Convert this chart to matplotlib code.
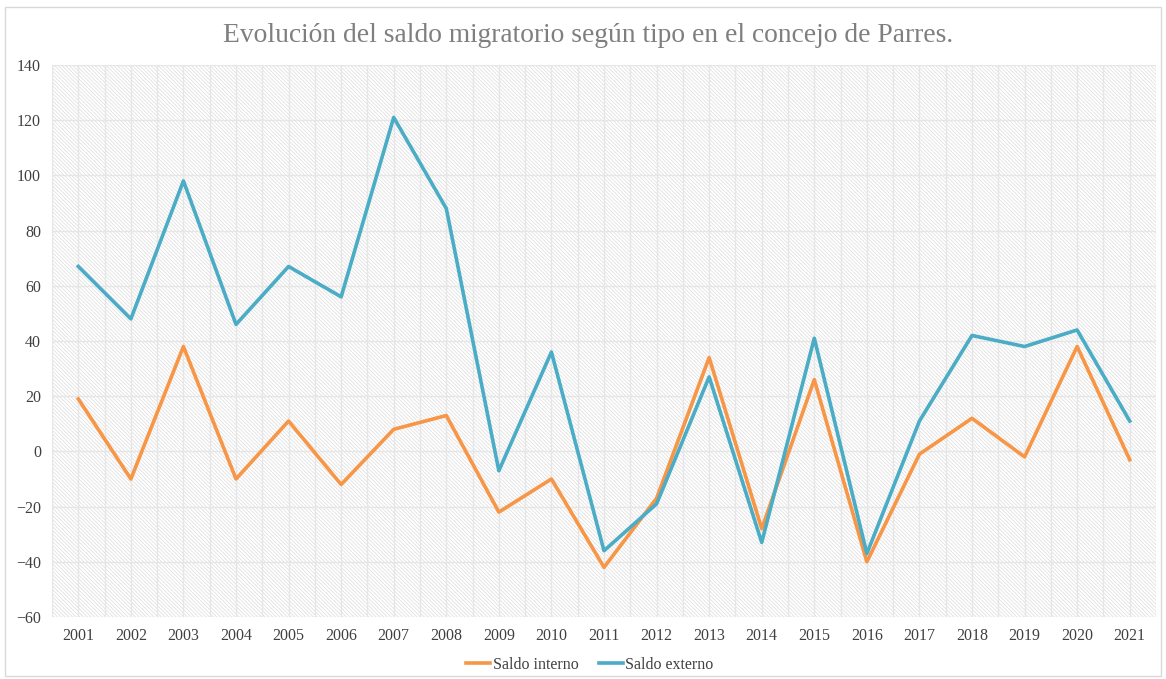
import matplotlib.pyplot as plt
from matplotlib.patches import Rectangle
import numpy as np

years = [str(y) for y in range(2001, 2022)]
saldo_interno = [19, -10, 38, -10, 11, -12, 8, 13, -22, -10, -42, -17, 34, -28, 26, -40, -1, 12, -2, 38, -3]
saldo_externo = [67, 48, 98, 46, 67, 56, 121, 88, -7, 36, -36, -19, 27, -33, 41, -37, 11, 42, 38, 44, 11]

plt.rcParams['font.family'] = ['Liberation Serif', 'DejaVu Serif']
plt.rcParams['hatch.linewidth'] = 0.5

fig = plt.figure(figsize=(11.66, 6.79), dpi=100)
ax = fig.add_axes([52 / 1166, 1 - 617 / 679, (1156 - 52) / 1166, (617 - 65) / 679])

# hatched background of plot area
bg = Rectangle((0, 0), 1, 1, transform=ax.transAxes, facecolor='white',
               edgecolor='#dcdcdc', linewidth=0, hatch='\\' * 9, zorder=0)
ax.add_patch(bg)

x = np.arange(len(years))
ax.plot(x, saldo_interno, color='#F79646', lw=2.6, label='Saldo interno', zorder=3)
ax.plot(x, saldo_externo, color='#4BACC6', lw=2.6, label='Saldo externo', zorder=3)

ax.set_xlim(-0.5, len(years) - 0.5)
ax.set_ylim(-60, 140)
ax.set_yticks(range(-60, 141, 20))
ax.set_xticks(x)
ax.set_xticklabels(years)
ax.set_xticks(np.arange(-0.5, len(years), 1), minor=True)
ax.grid(True, which='both', color='#e6e6e6', lw=1, zorder=1)
ax.set_axisbelow(True)
ax.tick_params(which='both', length=0)
ax.tick_params(axis='both', labelsize=11.5, labelcolor='#404040', pad=8)
for s in ax.spines.values():
    s.set_visible(False)

fig.text(0.5047, 1 - 35 / 679, 'Evolución del saldo migratorio según tipo en el concejo de Parres.',
         ha='center', va='center', fontsize=19.8, color='#7f7f7f')

fig.legend(loc='center', bbox_to_anchor=(0.506, 1 - 665 / 679), ncol=2, frameon=False,
           fontsize=11.5, handlelength=1.5, handletextpad=0.15, columnspacing=1.3,
           labelcolor='#404040')

# light border around the chart
fig.patches.append(Rectangle((0.004, 0.004), 0.992, 0.986, transform=fig.transFigure,
                             fill=False, edgecolor='#d9d9d9', lw=1))

fig.savefig('out.png', dpi=100)
